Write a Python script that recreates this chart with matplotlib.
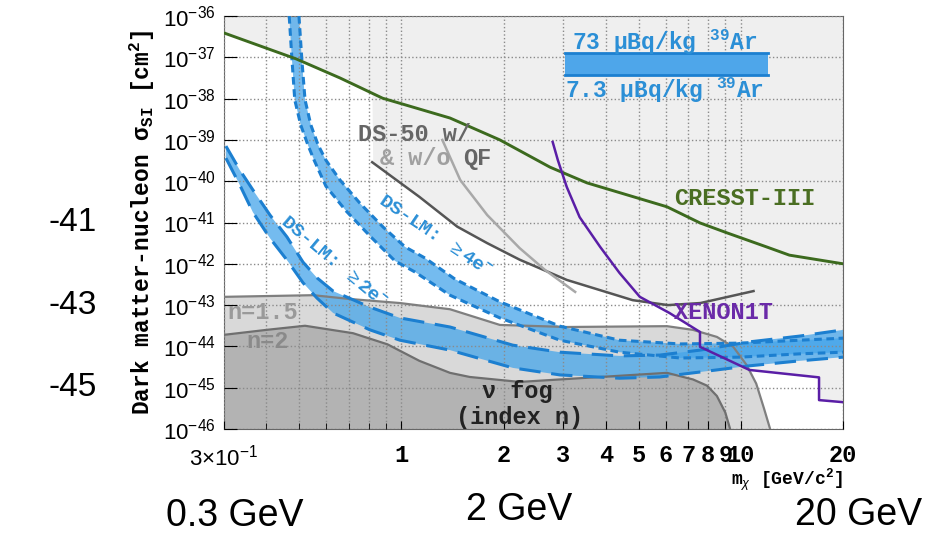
import matplotlib
matplotlib.use('Agg')
import matplotlib.pyplot as plt
from matplotlib.patches import Rectangle
import numpy as np

plt.rcParams['font.family'] = ['Liberation Sans', 'DejaVu Sans']
plt.rcParams['mathtext.fontset'] = 'custom'
plt.rcParams['mathtext.rm'] = 'Liberation Sans'
plt.rcParams['mathtext.it'] = 'Liberation Sans:italic'
plt.rcParams['mathtext.bf'] = 'Liberation Sans:bold'
plt.rcParams['mathtext.tt'] = 'Liberation Mono:bold'

# mass in GeV/c^2, cross sections given as log10(sigma / cm^2)
cresst_m = [0.3, 0.49, 0.659, 0.88, 1.39, 1.95, 2.74, 3.52, 6.06, 7.58, 9.1, 11.9, 13.9, 20]
cresst_s = [-36.41, -37.04, -37.50, -37.99, -38.47, -39.0, -39.66, -40.04, -40.62, -41.01,
            -41.25, -41.59, -41.79, -42.0]

ds50_m = [0.82, 1.13, 1.46, 1.79, 2.23, 3.07, 4.8, 6.1, 7.6, 10.9]
ds50_s = [-39.54, -40.38, -41.1, -41.5, -41.9, -42.39, -42.88, -43.0, -42.95, -42.66]

ds50wo_m = [1.32, 1.49, 1.79, 2.23, 2.65, 3.25]
ds50wo_s = [-39.0, -39.97, -40.82, -41.62, -42.15, -42.68]

xenon_m = [2.79, 2.89, 3.07, 3.35, 3.85, 4.39, 5.04, 6.16, 7.58, 7.58, 10.6, 17.0, 17.0, 20]
xenon_s = [-39.05, -39.49, -40.14, -40.87, -41.59, -42.22, -42.80, -43.19, -43.65, -44.01,
           -44.57, -44.75, -45.30, -45.35]

fog15_m = [0.3, 0.55, 0.7, 0.99, 1.39, 1.95, 3.07, 6.06, 7.23, 8.5, 9.5, 10.4, 11.1, 11.7, 12.2]
fog15_s = [-42.80, -42.76, -42.85, -42.95, -43.1, -43.48, -43.53, -43.51, -43.6, -43.77, -44.01,
           -44.45, -44.9, -45.5, -46.0]

fog2_m = [0.3, 0.4, 0.52, 0.72, 0.91, 1.13, 1.39, 1.59, 2.23, 3.85, 6.06, 7.23, 7.95, 8.5, 9.0, 9.3]
fog2_s = [-43.72, -43.6, -43.5, -43.68, -43.95, -44.35, -44.64, -44.74, -44.86, -44.74, -44.64,
          -44.8, -44.95, -45.2, -45.6, -46.0]

# DS-LM >=2e- band: 73 uBq/kg (upper) and 7.3 uBq/kg (lower)
lm2_m = [0.304, 0.334, 0.365, 0.410, 0.460, 0.513, 0.564, 0.629, 0.808, 0.990, 1.39, 2.13, 2.93,
         4.39, 5.77, 7.58, 10.6, 14.9, 20]
lm2_hi = [-39.15, -39.73, -40.21, -40.82, -41.35, -41.96, -42.34, -42.66, -43.05, -43.31, -43.53,
          -43.97, -44.14, -44.23, -44.21, -44.09, -43.89, -43.75, -43.60]
lm2_lo = [-39.44, -40.09, -40.75, -41.38, -41.91, -42.46, -42.83, -43.19, -43.60, -43.85, -44.09,
          -44.52, -44.69, -44.77, -44.74, -44.62, -44.47, -44.35, -44.26]

# DS-LM >=4e- band
lm4_hi_m = [0.499, 0.509, 0.520, 0.541, 0.568, 0.599, 0.659, 0.754, 0.883, 1.025, 1.173, 1.438, 1.95,
            2.93, 4.39, 6.62, 9.94, 14.9, 20]
lm4_hi = [-36.0, -37.07, -38.03, -38.64, -39.12, -39.49, -39.97, -40.53, -41.11, -41.59, -41.86,
          -42.37, -42.92, -43.51, -43.85, -43.94, -43.92, -43.85, -43.80]
lm4_lo_m = [0.467, 0.476, 0.485, 0.505, 0.530, 0.553, 0.599, 0.687, 0.813, 0.957, 1.097, 1.39, 1.95,
            2.93, 4.39, 6.62, 9.94, 14.9, 20]
lm4_lo = [-36.0, -37.07, -38.03, -38.64, -39.12, -39.49, -40.12, -40.72, -41.35, -41.93, -42.20,
          -42.76, -43.31, -43.85, -44.14, -44.28, -44.26, -44.18, -44.14]

xtick_vals = [0.3, 1, 2, 3, 4, 5, 6, 7, 8, 9, 10, 20]
xtick_labels = [r'$\mathdefault{3{\times}10^{-1}}$', '1', '2', '3', '4', '5', '6', '7', '8', '9', '10', '20']
xminor_vals = [0.4, 0.5, 0.6, 0.7, 0.8, 0.9]

side_labels = ['-41', '-43', '-45']
side_exps = [-41, -43, -45]
bottom_labels = ['0.3 GeV', '2 GeV', '20 GeV']
bottom_pos = [(0.252, 0.036), (0.557, 0.046), (0.921, 0.038)]


def sig(e):
    return 10.0 ** np.asarray(e, dtype=float)


mono = ['Liberation Mono', 'DejaVu Sans Mono']
blue_fill = '#45a5ea'
blue_line = '#1c7fd0'
blue_text = '#2b8fd6'

fig = plt.figure(figsize=(9.32, 5.35), dpi=100)
ax = fig.add_axes([0.2403, 0.1981, 0.6642, 0.7720])
ax.set_xscale('log')
ax.set_yscale('log')
ax.set_xlim(0.3, 20)
ax.set_ylim(1e-46, 1e-36)

# light grey: region above the existing limits
xg = np.logspace(np.log10(0.3), np.log10(20), 800)
lxg = np.log10(xg)
env = np.interp(lxg, np.log10(cresst_m), cresst_s)
xen_m = xenon_m[:9] + xenon_m[10:]
xen_s = xenon_s[:9] + xenon_s[10:]
for m, s in [(ds50_m, ds50_s), (xen_m, xen_s)]:
    v = np.interp(lxg, np.log10(m), s)
    v[(xg < m[0]) | (xg > m[-1])] = np.inf
    env = np.minimum(env, v)
ax.fill_between(xg, sig(env), 1e-36, color='#efefef', lw=0, zorder=0.5)

# neutrino fog
ax.fill_between(fog15_m, sig(fog15_s), 1e-46, color='#d9d9d9', lw=0, zorder=1)
ax.fill_between(fog2_m, sig(fog2_s), 1e-46, color='#b3b3b3', lw=0, zorder=1.1)
ax.plot(fog15_m, sig(fog15_s), color='#7f7f7f', lw=1.6, zorder=3)
ax.plot(fog2_m, sig(fog2_s), color='#6f6f6f', lw=1.6, zorder=3)

# DS-LM bands
ax.fill(np.concatenate([lm2_m, lm2_m[::-1]]), sig(np.concatenate([lm2_hi, lm2_lo[::-1]])),
        color=blue_fill, alpha=0.75, lw=0, zorder=1.5)
ax.fill(np.concatenate([lm4_hi_m, lm4_lo_m[::-1]]), sig(np.concatenate([lm4_hi, lm4_lo[::-1]])),
        color=blue_fill, alpha=0.75, lw=0, zorder=1.5)
for yy in (lm2_hi, lm2_lo):
    ax.plot(lm2_m, sig(yy), color=blue_line, lw=2.2, dashes=(7, 3.5), zorder=3)
ax.plot(lm4_hi_m, sig(lm4_hi), color=blue_line, lw=2.2, dashes=(2.5, 1.5), zorder=3)
ax.plot(lm4_lo_m, sig(lm4_lo), color=blue_line, lw=2.2, dashes=(2.5, 1.5), zorder=3)

# existing limits
ax.plot(cresst_m, sig(cresst_s), color='#3c6a1e', lw=2.1, zorder=4)
ax.plot(ds50_m, sig(ds50_s), color='#555555', lw=1.8, zorder=4)
ax.plot(ds50wo_m, sig(ds50wo_s), color='#a8a8a8', lw=1.8, zorder=4)
ax.plot(xenon_m, sig(xenon_s), color='#5a1ea6', lw=1.8, zorder=4)

# grid and ticks
ax.set_axisbelow(False)
ax.set_xticks(xtick_vals)
ax.set_xticks(xminor_vals, minor=True)
ax.set_xticklabels(xtick_labels)
ax.xaxis.set_minor_formatter(plt.NullFormatter())
for i, lab in enumerate(ax.get_xticklabels()):
    if i == 0:
        lab.set_fontfamily('Liberation Sans')
        lab.set_fontsize(16)
    else:
        lab.set_fontfamily(mono)
        lab.set_fontweight('bold')
        lab.set_fontsize(17)
ax.set_yticks(sig(np.arange(-46, -35)))
ax.tick_params(axis='both', which='both', direction='in', top=False, right=False)
ax.tick_params(axis='y', which='major', length=9, labelsize=16, pad=6)
ax.tick_params(axis='y', which='minor', length=6)
ax.tick_params(axis='x', which='major', length=6, pad=11)
ax.tick_params(axis='x', which='minor', length=4)
ax.grid(True, axis='x', which='both', ls=':', color='#8a8a8a', lw=1)
ax.grid(True, axis='y', which='major', ls=':', color='#8a8a8a', lw=1)
for sp in ax.spines.values():
    sp.set_color('#666666')

ax.set_ylabel(r'Dark matter-nucleon $\mathtt{\sigma_{SI}}$ [cm$^{\mathtt{2}}$]',
              fontfamily=mono, fontweight='bold', fontsize=16.5, labelpad=4)
ax.set_xlabel(r'm$_{\chi}$ [GeV/c$^{\mathtt{2}}$]', fontfamily=mono, fontweight='bold',
              fontsize=13, loc='right', labelpad=-3)

# annotations
tkw = dict(fontfamily=mono, fontweight='bold', fontsize=17, zorder=6)
lmkw = dict(fontfamily=mono, fontweight='bold', fontsize=14, zorder=6)
ax.text(0.629, sig(-41.96), r'DS-LM: $\geq$2e$^{\mathtt{-}}$', color=blue_text, rotation=-40,
        rotation_mode='anchor', ha='center', va='center', **lmkw)
ax.text(1.25, sig(-41.33), r'DS-LM: $\geq$4e$^{\mathtt{-}}$', color=blue_text, rotation=-34,
        rotation_mode='anchor', ha='center', va='center', **lmkw)
ax.text(0.745, sig(-38.88), 'DS-50 w/', color='#666666', ha='left', va='center', **tkw)
ax.text(0.865, sig(-39.44), '& w/o', color='#a0a0a0', ha='left', va='center', **tkw)
ax.text(1.52, sig(-39.44), 'QF', color='#666666', ha='left', va='center', **tkw)
ax.text(10.3, sig(-40.41), 'CRESST-III', color='#4a6e22', ha='center', va='center', **tkw)
ax.text(8.9, sig(-43.19), 'XENON1T', color='#6a2aa8', ha='center', va='center', **tkw)
ax.text(0.306, sig(-43.17), 'n=1.5', color='#9a9a9a', ha='left', va='center', **tkw)
ax.text(0.35, sig(-43.89), 'n=2', color='#8a8a8a', ha='left', va='center', **tkw)
ax.text(2.19, sig(-45.10), 'ν fog', color='#222222', ha='center', va='center', **tkw)
ax.text(2.23, sig(-45.73), '(index n)', color='#222222', ha='center', va='center', **tkw)

# background-level key
ax.add_patch(Rectangle((0.551, 0.857), 0.328, 0.053, transform=ax.transAxes,
                       facecolor='#4ea6ea', edgecolor='none', zorder=5))
ax.plot([0.551, 0.879], [0.910, 0.910], transform=ax.transAxes, color=blue_line, lw=2, zorder=5)
ax.plot([0.551, 0.879], [0.857, 0.857], transform=ax.transAxes, color=blue_line, lw=2, zorder=5)
ax.text(0.711, 0.936, r'73 μBq/kg $^{\mathtt{39}}$Ar', transform=ax.transAxes, color=blue_text,
        ha='center', va='center', fontfamily=mono, fontweight='bold', fontsize=16.5, zorder=6)
ax.text(0.711, 0.821, r'7.3 μBq/kg $^{\mathtt{39}}$Ar', transform=ax.transAxes, color=blue_text,
        ha='center', va='center', fontfamily=mono, fontweight='bold', fontsize=16.5, zorder=6)

# labels outside the frame
for lab, e in zip(side_labels, side_exps):
    ax.text(-0.244, sig(e), lab, transform=ax.get_yaxis_transform(), fontsize=24,
            fontfamily='Liberation Sans', ha='center', va='center', clip_on=False)
for lab, (xf, yf) in zip(bottom_labels, bottom_pos):
    fig.text(xf, yf, lab, fontsize=27, fontfamily='Liberation Sans', ha='center', va='center')

fig.savefig('out.png', dpi=100)
